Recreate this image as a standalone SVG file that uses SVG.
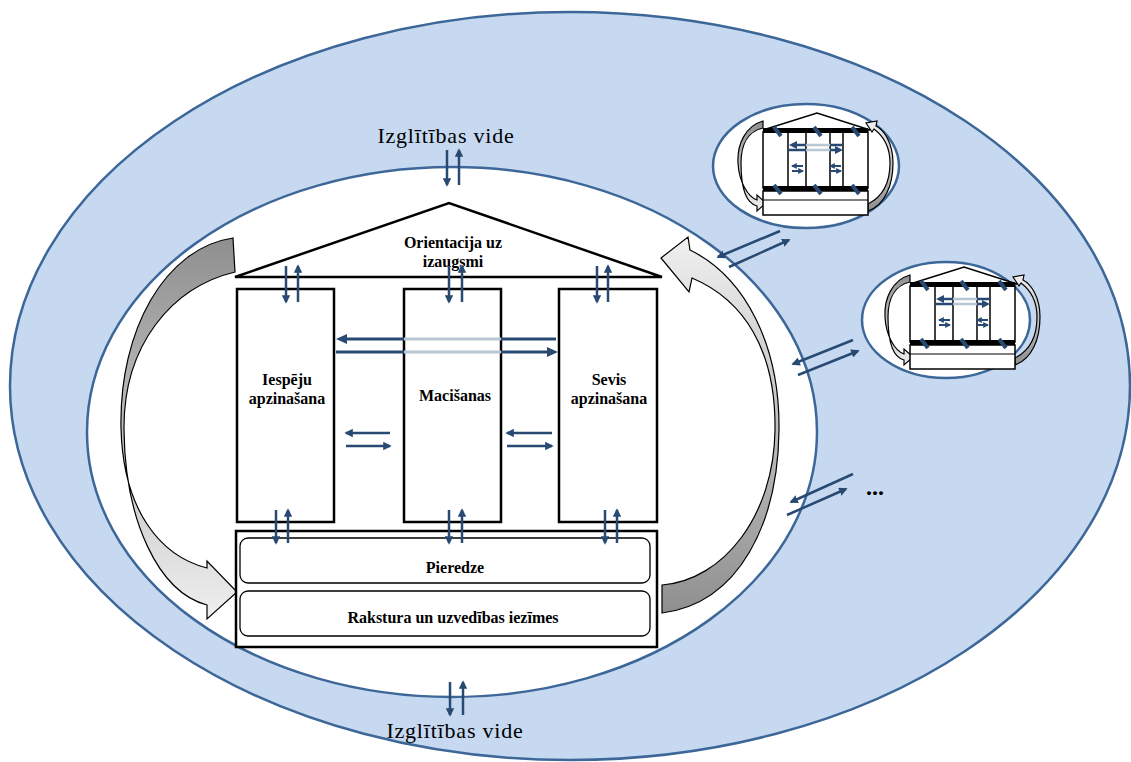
<svg xmlns="http://www.w3.org/2000/svg" xmlns:xlink="http://www.w3.org/1999/xlink" width="1131" height="762" viewBox="0 0 1131 762">
<style>
.env{fill:#c6d9f1;stroke:#3d6798;stroke-width:2.5}
.inner{fill:#ffffff;stroke:#3d6798;stroke-width:2.5}
.box{fill:#ffffff;stroke:#000;stroke-width:2.5}
.rbox{fill:#ffffff;stroke:#000;stroke-width:1.3}
.lbl{font-family:"Liberation Serif",serif;font-weight:bold;font-size:16px;fill:#000;text-anchor:middle}
.env-t{font-family:"Liberation Serif",serif;font-size:22px;letter-spacing:0.8px;fill:#000;text-anchor:middle}
.ar{stroke:#284a72;stroke-width:2.5;fill:none;marker-end:url(#ah)}
.ars{stroke:#284a72;stroke-width:2;fill:none;marker-end:url(#ahs)}
.big{stroke:#000;stroke-width:1.2}
.ic{fill:#fff;stroke:#000;stroke-width:1.5}
.dash{stroke:#284a72;stroke-width:4;stroke-linecap:butt}
</style>
<defs>
<marker id="ah" viewBox="0 0 10 10" refX="8" refY="5" markerWidth="3.4" markerHeight="3.4" orient="auto" markerUnits="strokeWidth">
<path d="M0,0 L10,5 L0,10 Z" fill="#284a72"/>
</marker>
<marker id="ahs" viewBox="0 0 10 10" refX="8" refY="5" markerWidth="3" markerHeight="3" orient="auto" markerUnits="strokeWidth">
<path d="M0,0 L10,5 L0,10 Z" fill="#284a72"/>
</marker>
<linearGradient id="gL" x1="0" y1="0" x2="0" y2="1">
<stop offset="0" stop-color="#8f8f8f"/>
<stop offset="1" stop-color="#efefef"/>
</linearGradient>
<linearGradient id="gR" x1="0" y1="0" x2="0" y2="1">
<stop offset="0" stop-color="#f0f0f0"/>
<stop offset="1" stop-color="#8f8f8f"/>
</linearGradient>
<linearGradient id="gH" gradientUnits="userSpaceOnUse" x1="336" y1="0" x2="558" y2="0">
<stop offset="0.306" stop-color="#284a72"/>
<stop offset="0.306" stop-color="#b9c6d4"/>
<stop offset="0.743" stop-color="#b9c6d4"/>
<stop offset="0.743" stop-color="#284a72"/>
</linearGradient>
<linearGradient id="gHs" gradientUnits="userSpaceOnUse" x1="789" y1="0" x2="843" y2="0">
<stop offset="0.315" stop-color="#284a72"/>
<stop offset="0.315" stop-color="#b9c6d4"/>
<stop offset="0.76" stop-color="#b9c6d4"/>
<stop offset="0.76" stop-color="#284a72"/>
</linearGradient>
<g id="temple">
<path class="big" fill="url(#gL)" d="M763 121 C745 126 737 145 738 163 C739 182 748 197 757 200 L757 195 L766 203 L757 211 L757 206 C745 203 741 185 741 163 C741 142 750 131 763 128 Z"/>
<path class="big" fill="url(#gR)" d="M868 211 C885 205 893 185 893 163 C893 143 884 130 876 126 L877 121 L866 123 L872 132 L874 129 C882 135 890 146 890 163 C890 183 882 197 868 204 Z"/>
<polygon class="ic" points="763,130 817,113 870,130"/>
<rect class="ic" x="763" y="132" width="105" height="56"/>
<line x1="788" y1="132" x2="788" y2="188" stroke="#000" stroke-width="1.5"/>
<line x1="806" y1="132" x2="806" y2="188" stroke="#000" stroke-width="1.5"/>
<line x1="830" y1="132" x2="830" y2="188" stroke="#000" stroke-width="1.5"/>
<line x1="843" y1="132" x2="843" y2="188" stroke="#000" stroke-width="1.5"/>
<rect x="763" y="128" width="105" height="5" fill="#000"/>
<rect x="763" y="186" width="105" height="5" fill="#000"/>
<rect class="ic" x="763" y="191" width="105" height="24"/>
<line x1="763" y1="200" x2="868" y2="200" stroke="#000" stroke-width="1.2"/>
<line class="dash" x1="774" y1="127" x2="781" y2="136"/>
<line class="dash" x1="814" y1="127" x2="821" y2="136"/>
<line class="dash" x1="852" y1="127" x2="859" y2="136"/>
<line class="dash" x1="774" y1="185" x2="781" y2="194"/>
<line class="dash" x1="814" y1="185" x2="821" y2="194"/>
<line class="dash" x1="852" y1="185" x2="859" y2="194"/>
<line x1="843" y1="145" x2="792" y2="145" stroke="url(#gHs)" stroke-width="2.5"/>
<path d="M789 145 L797 141 L797 149 Z" fill="#284a72"/>
<line x1="789" y1="150" x2="840" y2="150" stroke="url(#gHs)" stroke-width="2.5"/>
<path d="M843 150 L835 146 L835 154 Z" fill="#284a72"/>
<line class="ars" x1="803" y1="166" x2="792" y2="166"/>
<line class="ars" x1="792" y1="171" x2="803" y2="171"/>
<line class="ars" x1="841" y1="166" x2="830" y2="166"/>
<line class="ars" x1="830" y1="171" x2="841" y2="171"/>
</g>
</defs>

<g id="environment">
<ellipse class="env" cx="570" cy="386" rx="560" ry="374"/>
<ellipse class="inner" cx="452" cy="432" rx="365" ry="265"/>
<text class="env-t" x="446" y="143">Izglītības vide</text>
<text class="env-t" x="455" y="738">Izglītības vide</text>
</g>

<g id="cycle-left">
<path class="big" fill="url(#gL)" d="M233 238 C165 248 119 330 121 428 C123 510 160 556 207 568 L207 561 L237 592 L207 619 L207 605 C158 592 125 520 124 430 C123 345 172 287 235 272 Z"/>
</g>
<g id="cycle-right">
<path class="big" fill="url(#gR)" d="M661 258 L688 237 L690 250 C745 277 780 345 779 430 C778 522 740 603 662 613 L662 585 C724 580 774 515 775 430 C776 350 744 300 692 278 L689 292 Z"/>
</g>

<g id="roof">
<polygon points="235,277 449,203 662,277" fill="#fff" stroke="#000" stroke-width="2.5" stroke-linejoin="miter"/>
<text class="lbl" x="453" y="248">Orientacija uz</text>
<text class="lbl" x="453" y="267">izaugsmi</text>
</g>

<g id="col-iespeju">
<rect class="box" x="237" y="289" width="97" height="233"/>
<text class="lbl" x="287" y="385">Iespēju</text>
<text class="lbl" x="287" y="404">apzinašana</text>
</g>
<g id="col-macisanas">
<rect class="box" x="404" y="289" width="97" height="233"/>
<text class="lbl" x="455" y="401">Macišanas</text>
</g>
<g id="col-sevis">
<rect class="box" x="559" y="289" width="98" height="233"/>
<text class="lbl" x="609" y="385">Sevis</text>
<text class="lbl" x="609" y="404">apzinašana</text>
</g>

<g id="foundation">
<rect class="box" x="236" y="531" width="421" height="116"/>
<rect class="rbox" x="240" y="538" width="410" height="45" rx="8"/>
<text class="lbl" x="455" y="573">Pieredze</text>
<rect class="rbox" x="240" y="591" width="410" height="45" rx="8"/>
<text class="lbl" x="453" y="623">Rakstura un uzvedības iezīmes</text>
</g>

<g id="school-1">
<ellipse class="inner" cx="806" cy="166" rx="93" ry="62"/>
<use xlink:href="#temple"/>
</g>
<g id="school-2">
<ellipse class="inner" cx="946" cy="320" rx="84" ry="58"/>
<use xlink:href="#temple" transform="translate(147,154)"/>
</g>
<g id="more">
<text x="866" y="495" font-family="Liberation Serif,serif" font-weight="bold" font-size="24" fill="#000">...</text>
</g>

<g id="connectors">
<line class="ar" x1="447" y1="150" x2="447" y2="185"/>
<line class="ar" x1="459" y1="185" x2="459" y2="150"/>
<line class="ar" x1="450" y1="682" x2="450" y2="715"/>
<line class="ar" x1="463" y1="715" x2="463" y2="682"/>

<line class="ar" x1="286" y1="266" x2="286" y2="302"/>
<line class="ar" x1="298" y1="302" x2="298" y2="266"/>
<line class="ar" x1="449" y1="266" x2="449" y2="302"/>
<line class="ar" x1="462" y1="302" x2="462" y2="266"/>
<line class="ar" x1="597" y1="266" x2="597" y2="302"/>
<line class="ar" x1="608" y1="302" x2="608" y2="266"/>

<line class="ar" x1="276" y1="510" x2="276" y2="543"/>
<line class="ar" x1="288" y1="543" x2="288" y2="510"/>
<line class="ar" x1="449" y1="510" x2="449" y2="543"/>
<line class="ar" x1="462" y1="543" x2="462" y2="510"/>
<line class="ar" x1="605" y1="510" x2="605" y2="543"/>
<line class="ar" x1="617" y1="543" x2="617" y2="510"/>

<line x1="556" y1="339" x2="345" y2="339" stroke="url(#gH)" stroke-width="3"/>
<path d="M336 339 L347 334 L347 344 Z" fill="#284a72"/>
<line x1="336" y1="352" x2="549" y2="352" stroke="url(#gH)" stroke-width="3"/>
<path d="M558 352 L547 347 L547 357 Z" fill="#284a72"/>

<line class="ar" x1="390" y1="433" x2="346" y2="433"/>
<line class="ar" x1="346" y1="446" x2="390" y2="446"/>
<line class="ar" x1="552" y1="433" x2="507" y2="433"/>
<line class="ar" x1="507" y1="446" x2="552" y2="446"/>

<line class="ar" x1="780" y1="231" x2="718" y2="257"/>
<line class="ar" x1="729" y1="267" x2="789" y2="240"/>
<line class="ar" x1="853" y1="340" x2="793" y2="364"/>
<line class="ar" x1="798" y1="375" x2="858" y2="351"/>
<line class="ar" x1="853" y1="474" x2="791" y2="502"/>
<line class="ar" x1="787" y1="515" x2="846" y2="489"/>
</g>
</svg>
